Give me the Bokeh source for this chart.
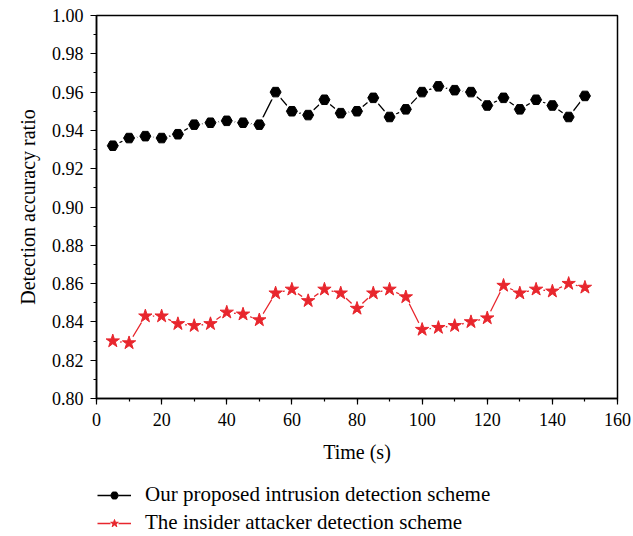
from bokeh.plotting import figure
from bokeh.layouts import column
from bokeh.models import (Legend, LegendItem, SingleIntervalTicker, Range1d,
                          PrintfTickFormatter)
from bokeh.embed import file_html
from bokeh.resources import INLINE

time_s = [5, 10, 15, 20, 25, 30, 35, 40, 45, 50, 55, 60, 65, 70, 75,
          80, 85, 90, 95, 100, 105, 110, 115, 120, 125, 130, 135, 140, 145, 150]
proposed = [0.932, 0.936, 0.937, 0.936, 0.938, 0.943, 0.944, 0.945, 0.944, 0.943,
            0.960, 0.950, 0.948, 0.956, 0.949, 0.950, 0.957, 0.947, 0.951, 0.960,
            0.963, 0.961, 0.960, 0.953, 0.957, 0.951, 0.956, 0.953, 0.947, 0.958]
insider = [0.830, 0.829, 0.843, 0.843, 0.839, 0.838, 0.839, 0.845, 0.844, 0.841,
           0.855, 0.857, 0.851, 0.857, 0.855, 0.847, 0.855, 0.857, 0.853, 0.836,
           0.837, 0.838, 0.840, 0.842, 0.859, 0.855, 0.857, 0.856, 0.860, 0.858]
series_names = ["Our proposed intrusion detection scheme",
                "The insider attacker detection scheme"]

FONT = "Liberation Serif"
RED = "#e8262d"

p = figure(width=633, height=470, output_backend="svg", toolbar_location=None,
           x_range=Range1d(0, 160), y_range=Range1d(0.80, 1.00),
           min_border_left=96, min_border_right=16, min_border_top=15,
           min_border_bottom=72, background_fill_color="white",
           border_fill_color="white")

p.xgrid.visible = False
p.ygrid.visible = False
p.outline_line_color = "black"
p.outline_line_width = 1.5
p.outline_line_alpha = 1.0

p.xaxis.ticker = SingleIntervalTicker(interval=20, num_minor_ticks=2)
p.yaxis.ticker = SingleIntervalTicker(interval=0.02, num_minor_ticks=2)
p.yaxis.formatter = PrintfTickFormatter(format="%.2f")

for ax in (p.xaxis[0], p.yaxis[0]):
    ax.axis_line_width = 1.5
    ax.axis_line_color = "black"
    ax.major_tick_line_color = "black"
    ax.minor_tick_line_color = "black"
    ax.major_tick_line_width = 1.2
    ax.minor_tick_line_width = 1.2
    ax.major_tick_out = 6
    ax.major_tick_in = 0
    ax.minor_tick_out = 3
    ax.minor_tick_in = 0
    ax.major_label_text_font = FONT
    ax.major_label_text_font_size = "18px"
    ax.major_label_text_color = "black"
    ax.axis_label_text_font = FONT
    ax.axis_label_text_font_size = "20px"
    ax.axis_label_text_font_style = "normal"
    ax.axis_label_text_color = "black"

p.xaxis.axis_label = "Time (s)"
p.yaxis.axis_label = "Detection accuracy ratio"
p.xaxis.major_label_standoff = 8
p.yaxis.major_label_standoff = 7
p.xaxis.axis_label_standoff = 12
p.yaxis.axis_label_standoff = 10

# lines, then a white halo under each marker so the line stops short of it
p.line(time_s, proposed, line_color="black", line_width=1.3)
p.scatter(time_s, proposed, marker="hex", size=17, fill_color="white",
          line_color=None)
p.scatter(time_s, proposed, marker="hex", size=11, fill_color="black",
          line_color="black", line_width=1.0)
p.line(time_s, insider, line_color=RED, line_width=1.3)
p.scatter(time_s, insider, marker="circle", size=15, fill_color="white",
          line_color=None)
p.scatter(time_s, insider, marker="star", size=14, fill_color=RED,
          line_color=RED, line_width=1.0)

# legend panel below the chart (its glyphs lie outside its visible range)
lg = figure(width=633, height=66, output_backend="svg", toolbar_location=None,
            x_range=Range1d(0, 1), y_range=Range1d(0, 1),
            x_axis_location=None, y_axis_location=None,
            min_border=0, outline_line_color=None,
            background_fill_color="white", border_fill_color="white")
lg.grid.visible = False
e1 = lg.line(time_s, proposed, line_color="black", line_width=1.3)
h1 = lg.scatter(time_s, proposed, marker="circle", size=12, fill_color="white",
                line_color=None)
m1 = lg.scatter(time_s, proposed, marker="hex", size=8, fill_color="black",
                line_color="black", line_width=1.0)
e2 = lg.line(time_s, insider, line_color=RED, line_width=1.3)
h2 = lg.scatter(time_s, insider, marker="circle", size=12, fill_color="white",
                line_color=None)
m2 = lg.scatter(time_s, insider, marker="star", size=9, fill_color=RED,
                line_color=RED, line_width=1.0)

legend = Legend(items=[LegendItem(label=series_names[0], renderers=[e1, h1, m1]),
                       LegendItem(label=series_names[1], renderers=[e2, h2, m2])],
                location=(1, 1), orientation="vertical",
                label_text_font=FONT, label_text_font_size="21px",
                label_text_color="black", glyph_width=34, glyph_height=20,
                label_standoff=14, spacing=3, padding=0, margin=0,
                border_line_color=None, background_fill_alpha=0)
lg.add_layout(legend, "center")

layout = column(p, lg, spacing=0)
open("out.html", "w").write(file_html(layout, INLINE))
